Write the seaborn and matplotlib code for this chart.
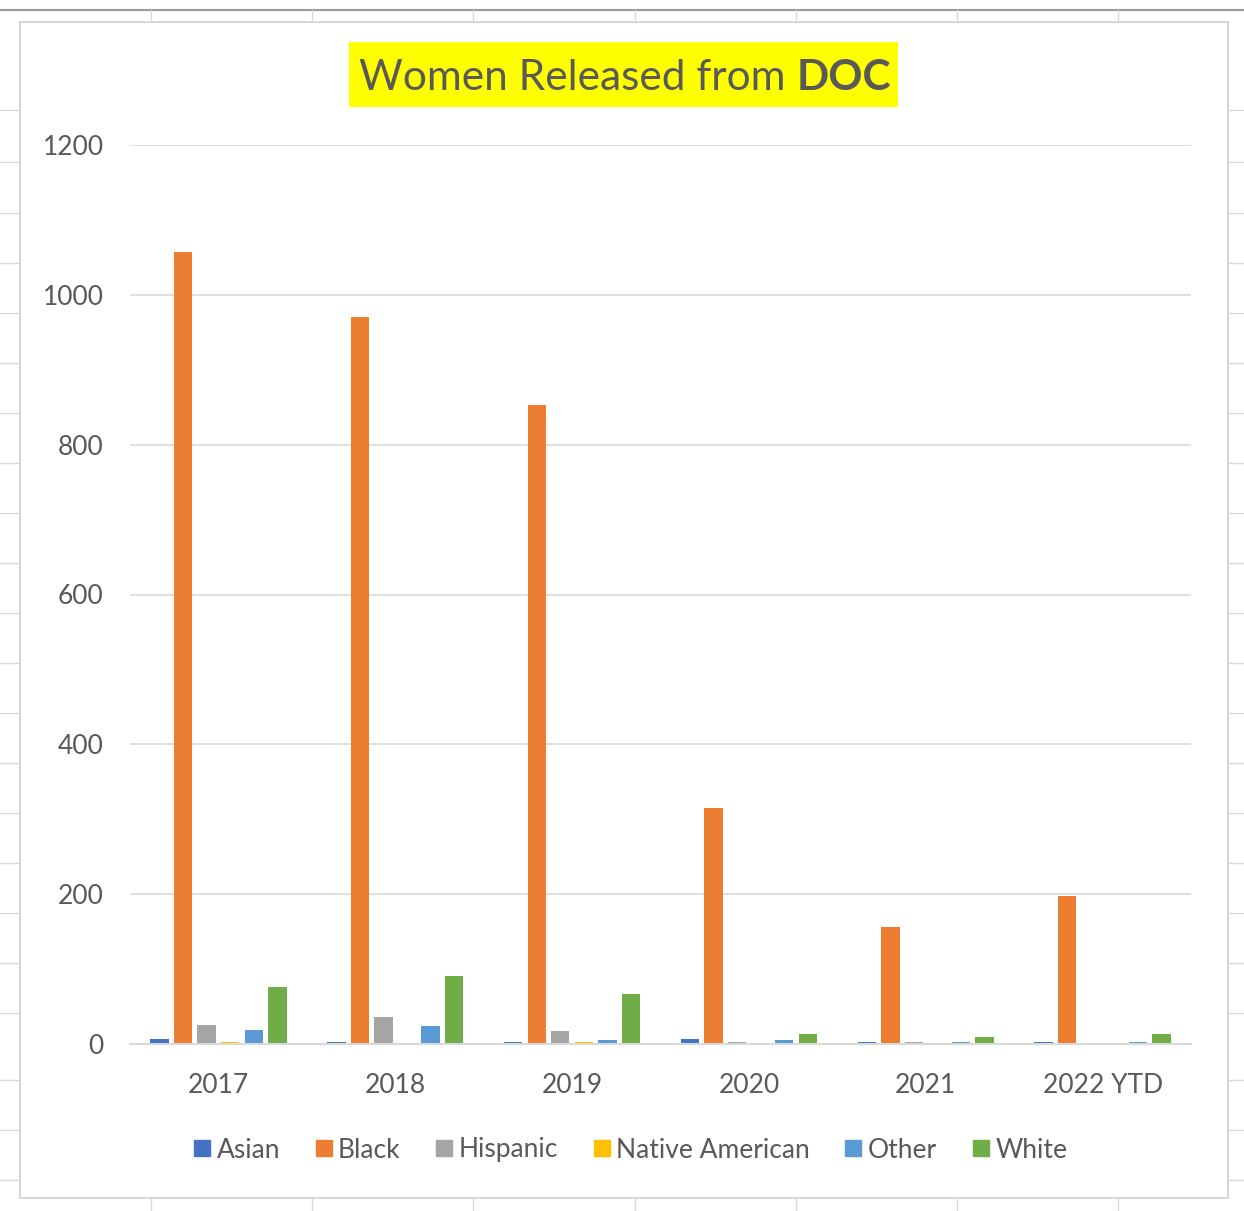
import matplotlib
matplotlib.use("Agg")
import matplotlib.pyplot as plt
import seaborn as sns
import pandas as pd
from matplotlib.patches import Rectangle
from matplotlib.lines import Line2D

years = ["2017", "2018", "2019", "2020", "2021", "2022 YTD"]
races = ["Asian", "Black", "Hispanic", "Native American", "Other", "White"]

asian = [7, 3, 3, 7, 3, 3]
black = [1057, 970, 853, 315, 156, 198]
hispanic = [26, 36, 17, 3, 3, 0]
native = [3, 0, 3, 0, 0, 0]
other = [19, 24, 5, 5, 3, 3]
white = [76, 91, 67, 14, 10, 14]

colors = ["#4472C4", "#ED7D31", "#A5A5A5", "#FFC000", "#5B9BD5", "#70AD47"]
textcol = "#595959"

rows = []
for race, vals in zip(races, [asian, black, hispanic, native, other, white]):
    for yr, v in zip(years, vals):
        rows.append({"Year": yr, "Race": race, "Count": v})
df = pd.DataFrame(rows)

sns.set_theme(style="white")
plt.rcParams["font.family"] = ["Lato", "DejaVu Sans"]

W, H = 1244, 1211
fig = plt.figure(figsize=(W / 100, H / 100), dpi=100)

# spreadsheet cell lines behind the chart
bg = fig.add_axes([0, 0, 1, 1])
bg.set_xlim(0, W)
bg.set_ylim(H, 0)
bg.axis("off")
bg.plot([0, W], [10, 10], color="#9a9a9a", lw=1.5)
for x in [151, 312, 473, 635, 796, 957, 1118]:
    bg.plot([x, x], [10, 22], color="#d9d9d9", lw=1)
    bg.plot([x, x], [1198, H], color="#d9d9d9", lw=1)
for y in [110, 162, 213, 263, 313, 363, 413, 463, 513, 563, 613, 663, 713, 763,
          813, 863, 913, 963, 1013, 1080, 1130, 1180]:
    bg.plot([0, 20], [y, y], color="#d9d9d9", lw=1)
    bg.plot([1228, W], [y, y], color="#d9d9d9", lw=1)
bg.add_patch(Rectangle((20, 22), 1208, 1176, facecolor="white", edgecolor="#d0d0d0", lw=1.2))

# title box
bg.add_patch(Rectangle((349, 42), 549, 65, facecolor="#FFFF00", edgecolor="none"))
t1 = bg.text(359, 78, "Women Released from ", fontsize=30.5, color=textcol,
             ha="left", va="center")
bg.annotate("DOC", xy=(1, 0), xycoords=t1, va="bottom", ha="left",
            fontsize=30.5, color=textcol, fontweight="bold")

ax = fig.add_axes([130 / W, (H - 1044) / H, (1191 - 130) / W, (1044 - 145) / H])
sns.barplot(data=df, x="Year", y="Count", hue="Race", hue_order=races,
            palette=colors, saturation=1, width=0.8, gap=0.22, ax=ax,
            linewidth=0, legend=False)
ax.set_ylim(0, 1200)
ax.set_xlim(-0.5, 5.5)
ax.set_yticks(range(0, 1201, 200))
ax.yaxis.grid(True, color="#d9d9d9", lw=1.2)
ax.set_axisbelow(True)
for s in ["top", "right", "left"]:
    ax.spines[s].set_visible(False)
ax.spines["bottom"].set_color("#d9d9d9")
ax.spines["bottom"].set_linewidth(1.5)
ax.set_xlabel("")
ax.set_ylabel("")
ax.tick_params(axis="both", length=0, labelsize=19, colors=textcol)
ax.tick_params(axis="y", pad=19)
ax.tick_params(axis="x", pad=21)
ax.patch.set_alpha(0)

handles = [Line2D([], [], marker="s", linestyle="", markersize=11,
                  markerfacecolor=c, markeredgecolor=c) for c in colors]
fig.legend(handles, races, loc="center", bbox_to_anchor=(628 / W, (H - 1150) / H),
           ncol=6, frameon=False, fontsize=19, labelcolor=textcol,
           handletextpad=0.05, columnspacing=1.15, handlelength=1.0)

fig.savefig("out.png", dpi=100)
